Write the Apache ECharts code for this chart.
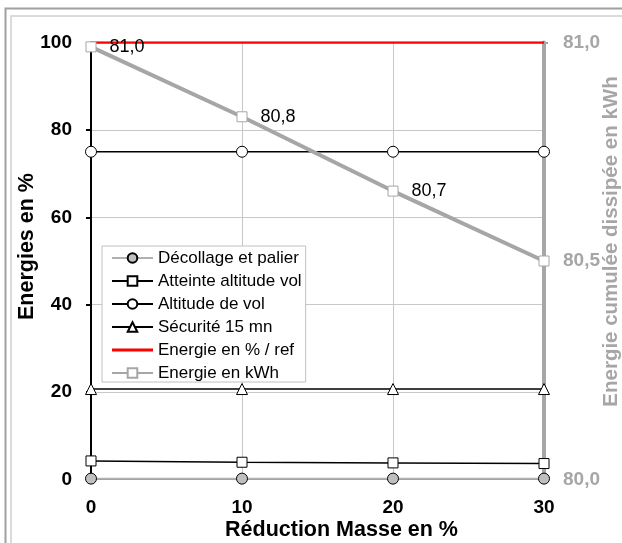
<!DOCTYPE html>
<html>
<head>
<meta charset="utf-8">
<script src="https://cdn.jsdelivr.net/npm/echarts@6/dist/echarts.min.js"></script>
<style>
html,body{margin:0;padding:0;background:#fff;}
#chart{width:622px;height:543px;}
</style>
</head>
<body>
<div id="chart"></div>
<script>
var xValues = [0, 10, 20, 30];
var decollage = [0.2, 0.2, 0.2, 0.2];
var atteinte = [4.25, 3.95, 3.8, 3.65];
var altitude = [75, 75, 75, 75];
var securite = [20.7, 20.7, 20.7, 20.7];
var energiePct = [100, 100, 100, 100];
var energieKWh = [80.99, 80.83, 80.66, 80.5];
var seriesNames = ['Décollage et palier', 'Atteinte altitude vol', 'Altitude de vol', 'Sécurité 15 mn', 'Energie en % / ref', 'Energie en kWh'];
var kwhLabelShown = [true, true, true, false];

function pairs(vals) { return xValues.map(function (x, i) { return [x, vals[i]]; }); }
function comma(v, d) { return v.toFixed(d).replace('.', ','); }

var FONT = 'Liberation Sans';
var chart = echarts.init(document.getElementById('chart'), null, { renderer: 'canvas' });

var legendData = seriesNames.map(function (n, i) {
  if (i === 4) return { name: n, icon: 'path://M0,0H41V3H0Z' };
  return { name: n };
});

var option = {
  animation: false,
  backgroundColor: '#ffffff',
  textStyle: { fontFamily: FONT },
  graphic: [
    { type: 'rect', shape: { x: 5.5, y: 8.5, width: 700, height: 600 }, style: { fill: 'none', stroke: '#a0a0a0', lineWidth: 2 }, silent: true, z: 0 },
    { type: 'rect', shape: { x: 11, y: 16, width: 700, height: 600 }, style: { fill: 'none', stroke: '#d0d0d0', lineWidth: 1.5 }, silent: true, z: 0 }
  ],
  grid: { left: 91, right: 78, top: 42.5, bottom: 63.5, containLabel: false, outerBoundsMode: 'none' },
  legend: {
    orient: 'vertical',
    left: 102,
    top: 246,
    padding: [3, 4, 0, 9],
    itemGap: 5,
    itemWidth: 41,
    itemHeight: 12,
    backgroundColor: '#ffffff',
    borderColor: '#c0c0c0',
    borderWidth: 1,
    borderRadius: 0,
    textStyle: { fontFamily: FONT, fontSize: 17, color: '#000', lineHeight: 18 },
    data: legendData
  },
  xAxis: {
    type: 'value', min: 0, max: 30, interval: 10,
    name: 'Réduction Masse en %', nameLocation: 'middle', nameGap: 40, nameMoveOverlap: false,
    nameTextStyle: { fontFamily: FONT, fontSize: 21.5, fontWeight: 'bold', color: '#000', padding: [0, 0, 0, 48] },
    axisLine: { show: true, lineStyle: { color: '#808080', width: 1 } },
    axisTick: { show: false },
    axisLabel: { fontFamily: FONT, fontSize: 19, fontWeight: 'bold', color: '#000', margin: 19 },
    splitLine: { show: true, lineStyle: { color: '#c8c8c8', width: 1 } }
  },
  yAxis: [
    {
      type: 'value', min: 0, max: 100, interval: 20, position: 'left',
      name: 'Energies en %', nameLocation: 'middle', nameGap: 53, nameRotate: 90, nameMoveOverlap: false,
      nameTextStyle: { fontFamily: FONT, fontSize: 21.5, fontWeight: 'bold', color: '#000', padding: [0, 0, 0, 29] },
      axisLine: { show: true, lineStyle: { color: '#000', width: 2 } },
      axisTick: { show: true, inside: false, length: 5, lineStyle: { color: '#000', width: 2 } },
      axisLabel: { fontFamily: FONT, fontSize: 19, fontWeight: 'bold', color: '#000', margin: 19 },
      splitLine: { show: true, lineStyle: { color: '#c8c8c8', width: 1 } }
    },
    {
      type: 'value', min: 80, max: 81, interval: 0.5, position: 'right',
      name: 'Energie cumulée dissipée en kWh', nameLocation: 'middle', nameGap: 57, nameRotate: 90, nameMoveOverlap: false,
      nameTextStyle: { fontFamily: FONT, fontSize: 20.5, fontWeight: 'bold', color: '#a6a6a6', padding: [0, 0, 0, 39] },
      axisLine: { show: true, lineStyle: { color: '#a6a6a6', width: 4 } },
      axisTick: { show: true, inside: false, length: 4, lineStyle: { color: '#a6a6a6', width: 2 } },
      axisLabel: { fontFamily: FONT, fontSize: 19, fontWeight: 'bold', color: '#a6a6a6', margin: 19,
        formatter: function (v) { return comma(v, 1); } },
      splitLine: { show: false }
    }
  ],
  series: [
    {
      name: seriesNames[0], type: 'line', yAxisIndex: 0, data: pairs(decollage),
      symbol: 'circle', symbolSize: 11,
      lineStyle: { color: '#b0b0b0', width: 2 },
      itemStyle: { color: '#bfbfbf', borderColor: '#000', borderWidth: 1 }
    },
    {
      name: seriesNames[1], type: 'line', yAxisIndex: 0, data: pairs(atteinte),
      symbol: 'rect', symbolSize: 10,
      lineStyle: { color: '#000', width: 1.5 },
      itemStyle: { color: '#fff', borderColor: '#000', borderWidth: 1 }
    },
    {
      name: seriesNames[2], type: 'line', yAxisIndex: 0, data: pairs(altitude),
      symbol: 'circle', symbolSize: 11,
      lineStyle: { color: '#000', width: 1.5 },
      itemStyle: { color: '#fff', borderColor: '#000', borderWidth: 1 }
    },
    {
      name: seriesNames[3], type: 'line', yAxisIndex: 0, data: pairs(securite),
      symbol: 'triangle', symbolSize: 11,
      lineStyle: { color: '#000', width: 1.5 },
      itemStyle: { color: '#fff', borderColor: '#000', borderWidth: 1 }
    },
    {
      name: seriesNames[4], type: 'line', yAxisIndex: 0, data: pairs(energiePct),
      symbol: 'none', showSymbol: false,
      lineStyle: { color: '#ff0000', width: 2.5 },
      itemStyle: { color: '#ff0000' }
    },
    {
      name: seriesNames[5], type: 'line', yAxisIndex: 1,
      data: xValues.map(function (x, i) {
        return { value: [x, energieKWh[i]], label: { show: kwhLabelShown[i] } };
      }),
      symbol: 'rect', symbolSize: 10,
      lineStyle: { color: '#a6a6a6', width: 4 },
      itemStyle: { color: '#fff', borderColor: '#a6a6a6', borderWidth: 1 },
      label: {
        show: true, position: 'right', distance: 13,
        fontFamily: FONT, fontSize: 18, color: '#000',
        formatter: function (p) { return comma(p.value[1], 1); }
      },
      z: 3
    }
  ]
};
chart.setOption(option);
</script>
</body>
</html>
